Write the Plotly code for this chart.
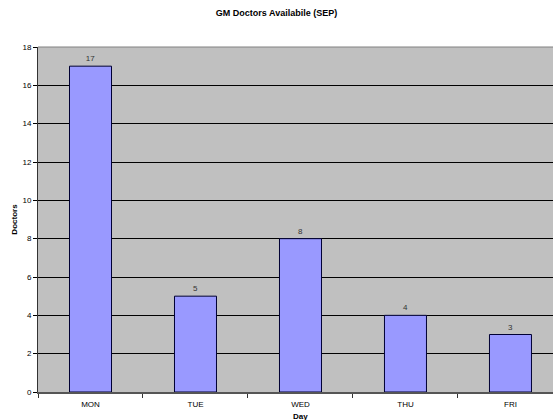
import plotly.graph_objects as go

days = ["MON", "TUE", "WED", "THU", "FRI"]
doctors = [17, 5, 8, 4, 3]
y_ticks = list(range(0, 19, 2))

font_family = "Liberation Sans, Arial, sans-serif"

fig = go.Figure()
fig.add_trace(go.Bar(
    x=days,
    y=doctors,
    width=0.4,
    marker=dict(color="#9999FF", line=dict(color="#000033", width=1)),
    text=[str(v) for v in doctors],
    textposition="outside",
    textfont=dict(family=font_family, size=8, color="#333333"),
    cliponaxis=False,
))

fig.update_layout(
    width=553,
    height=420,
    margin=dict(l=38, r=0, t=47, b=28),
    paper_bgcolor="white",
    plot_bgcolor="#C0C0C0",
    showlegend=False,
    bargap=0.6,
    title=dict(
        text="<b>GM Doctors Availabile (SEP)</b>",
        x=0.5, xanchor="center", y=0.97, yanchor="middle",
        font=dict(family=font_family, size=9, color="black"),
    ),
    font=dict(family=font_family, size=8, color="black"),
)

fig.update_yaxes(
    range=[0, 18],
    tickvals=y_ticks,
    ticks="outside",
    ticklen=4,
    tickcolor="black",
    showgrid=True,
    gridcolor="black",
    gridwidth=1,
    showline=True,
    linecolor="#333333",
    linewidth=1,
    zeroline=False,
    tickfont=dict(family=font_family, size=8, color="black"),
    title=dict(text="<b>Doctors</b>", font=dict(family=font_family, size=8, color="black"), standoff=3),
)

fig.update_xaxes(
    type="category",
    range=[-0.5, 4.405],
    tickson="boundaries",
    ticks="outside",
    ticklen=4,
    tickcolor="#333333",
    ticklabelstandoff=3,
    showgrid=False,
    showline=True,
    linecolor="#555555",
    linewidth=2,
    tickfont=dict(family=font_family, size=8, color="black"),
)

# x-axis title centred on the full category span
fig.add_annotation(
    text="<b>Day</b>",
    xref="paper", yref="paper",
    x=(300.5 - 38) / (553 - 38), y=0,
    yshift=-24, showarrow=False,
    xanchor="center", yanchor="middle",
    font=dict(family=font_family, size=8, color="black"),
)

# thin frame along the top of the plot area
fig.add_shape(
    type="line", xref="paper", yref="paper",
    x0=0, x1=1, y0=1, y1=1,
    line=dict(color="#808080", width=1),
)

fig.write_html("out.html")
